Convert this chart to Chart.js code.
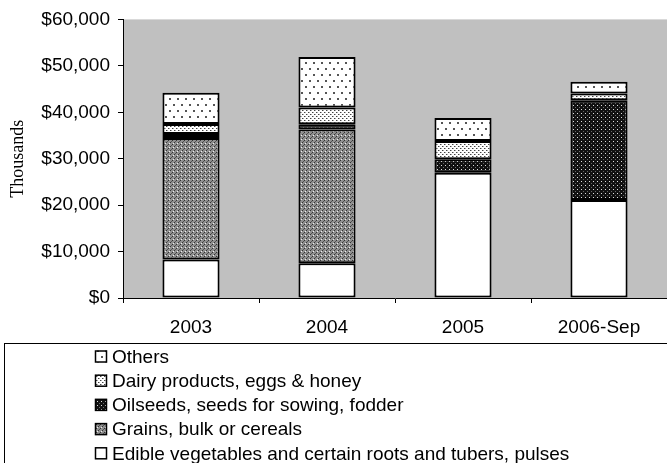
<!DOCTYPE html>
<html>
<head>
<meta charset="utf-8">
<script src="https://cdn.jsdelivr.net/npm/chart.js@4.4.1/dist/chart.umd.min.js"></script>
<style>
  html, body { margin: 0; padding: 0; background: #fff; }
  #wrap { width: 667px; height: 463px; overflow: hidden; }
</style>
</head>
<body>
<div id="wrap"><canvas id="chart" width="667" height="463"></canvas></div>
<script>
// categories and stacked series (thousands of dollars), bottom to top
const periods = ['2003', '2004', '2005', '2006-Sep'];
const edibleVeg = [8300, 7500, 27000, 21100];
const grains = [26150, 28800, 0, 0];
const oilseeds = [850, 1100, 2900, 21500];
const dairy = [2150, 3600, 3900, 1450];
const others = [6750, 10900, 4950, 2500];

const seriesNames = [
  'Edible vegetables and certain roots and tubers, pulses',
  'Grains, bulk or cereals',
  'Oilseeds, seeds for sowing, fodder',
  'Dairy products, eggs & honey',
  'Others'
];

const yTicks = { min: 0, max: 60000, step: 10000 };

const sansFont = '"Liberation Sans", Arial, sans-serif';

// small tiled fills imitating the old Excel hatch patterns
function makePattern(w, h, bg, dots) {
  const c = document.createElement('canvas');
  c.width = w;
  c.height = h;
  const g = c.getContext('2d');
  g.fillStyle = bg;
  g.fillRect(0, 0, w, h);
  dots.forEach(d => {
    g.fillStyle = d[4];
    g.fillRect(d[0], d[1], d[2], d[3]);
  });
  return g.createPattern(c, 'repeat');
}

const ctx = document.getElementById('chart').getContext('2d');

const fills = [
  '#ffffff',
  makePattern(4, 4, '#909090', [[0, 0, 1, 1, '#333'], [2, 2, 1, 1, '#333'], [1, 3, 1, 1, '#eee'], [3, 1, 1, 1, '#555']]),
  makePattern(4, 4, '#111', [[1, 1, 1, 1, '#ddd'], [3, 3, 1, 1, '#666']]),
  makePattern(4, 4, '#ffffff', [[0, 0, 1, 1, '#444'], [2, 2, 1, 1, '#444'], [1, 0, 1, 1, '#aaa'], [3, 2, 1, 1, '#aaa']]),
  makePattern(8, 12, '#ffffff', [[1, 2, 2, 2, '#555'], [5, 8, 2, 2, '#555']])
];

const plotBackground = {
  id: 'plotBackground',
  beforeDraw(chart) {
    const a = chart.chartArea;
    const c = chart.ctx;
    c.save();
    c.fillStyle = '#c0c0c0';
    c.fillRect(a.left, a.top, a.right - a.left, a.bottom - a.top);
    c.restore();
  }
};

// legend in a framed box below the axis, one entry per row, top series first
const boxLegend = {
  id: 'boxLegend',
  afterDraw(chart) {
    const c = chart.ctx;
    const top = chart.chartArea.bottom + 45;
    c.save();
    c.strokeStyle = '#000';
    c.lineWidth = 1;
    c.strokeRect(4.5, top + 0.5, 700, 200);
    c.font = '19px ' + sansFont;
    c.textBaseline = 'middle';
    const ds = chart.data.datasets.slice().reverse();
    ds.forEach((d, i) => {
      const y = top + 13.5 + i * 24.2;
      c.fillStyle = d.backgroundColor;
      c.fillRect(95, y - 6, 12, 12);
      c.lineWidth = 1.5;
      c.strokeRect(95.5, y - 5.5, 11, 11);
      c.fillStyle = '#000';
      c.fillText(d.label, 112, y + 1);
    });
    c.restore();
  }
};

const seriesData = [edibleVeg, grains, oilseeds, dairy, others];

new Chart(ctx, {
  type: 'bar',
  data: {
    labels: periods,
    datasets: seriesData.map((vals, i) => ({
      label: seriesNames[i],
      data: vals,
      backgroundColor: fills[i],
      borderColor: '#000',
      borderWidth: 2,
      borderSkipped: false,
      barPercentage: 0.42,
      categoryPercentage: 1
    }))
  },
  options: {
    responsive: false,
    devicePixelRatio: 1,
    animation: false,
    layout: { padding: { top: 19, right: 0, bottom: 125, left: 0 } },
    plugins: {
      legend: { display: false },
      tooltip: { enabled: false }
    },
    scales: {
      x: {
        stacked: true,
        afterFit(scale) { scale.height = 40; },
        grid: {
          display: true,
          drawOnChartArea: false,
          offset: true,
          tickLength: 5,
          color: '#000'
        },
        border: { color: '#000', width: 1 },
        ticks: {
          color: '#000',
          padding: 13,
          maxRotation: 0,
          font: { family: sansFont, size: 19 }
        }
      },
      y: {
        stacked: true,
        min: yTicks.min,
        max: yTicks.max,
        afterFit(scale) { scale.width = 123; },
        grid: {
          display: true,
          drawOnChartArea: false,
          tickLength: 5,
          color: '#000'
        },
        border: { color: '#000', width: 1 },
        ticks: {
          stepSize: yTicks.step,
          color: '#000',
          padding: 8,
          font: { family: sansFont, size: 19 },
          callback: v => '$' + v.toLocaleString('en-US')
        },
        title: {
          display: true,
          text: 'Thousands',
          color: '#000',
          padding: { top: 7, bottom: 0 },
          font: { family: '"Liberation Serif", "Times New Roman", serif', size: 18, weight: 'normal' }
        }
      }
    }
  },
  plugins: [plotBackground, boxLegend]
});
</script>
</body>
</html>
